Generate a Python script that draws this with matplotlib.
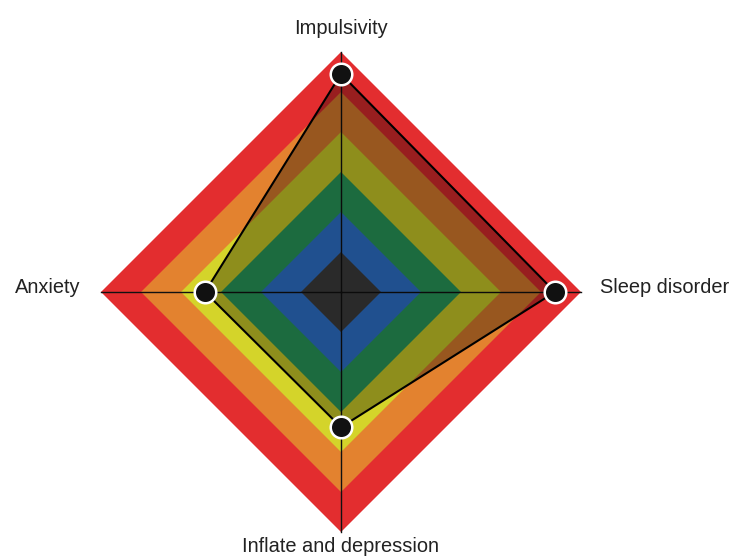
"""
Diamond radar chart with coloured severity bands
"""

import matplotlib.pyplot as plt
import numpy as np

# * Data
categories = ["Impulsivity", "Sleep disorder", "Inflate and depression", "Anxiety"]
scores = [5.45, 5.35, 3.38, 3.4]
levels = [6, 5, 4, 3, 2, 1]
band_colors = ["#e32d2f", "#e3822f", "#d4d42a", "#2aa05e", "#3178d6", "#404040"]

# * Geometry: top, right, bottom, left (clockwise from top)
angles = np.deg2rad([90, 0, -90, 180])
dx, dy = np.cos(angles), np.sin(angles)


def main() -> None:
    """Draw and save the chart"""
    fig = plt.figure(figsize=(7.46, 5.57), dpi=100)
    ax = fig.add_axes([0, 0, 1, 1])
    ax.set_xlim(-341 / 40, 405 / 40)
    ax.set_ylim(-265 / 40, 292 / 40)
    ax.axis("off")

    ## Concentric bands, largest first
    for lvl, col in zip(levels, band_colors):
        ax.fill(lvl * dx, lvl * dy, color=col, lw=0, zorder=1)

    ## Spokes
    for x, y in zip(dx, dy):
        ax.plot([0, 6 * x], [0, 6 * y], color="#111111", lw=1, zorder=2)

    ## Score polygon
    sx, sy = np.array(scores) * dx, np.array(scores) * dy
    ax.fill(sx, sy, color="black", alpha=0.33, lw=0, zorder=3)
    ax.plot(np.append(sx, sx[0]), np.append(sy, sy[0]), color="black", lw=1.5, zorder=4)
    ax.plot(sx, sy, ls="none", marker="o", ms=15.5, mfc="#111111", mec="white",
            mew=1.8, zorder=5)

    ## Axis labels
    font = dict(fontsize=14.4, family="Liberation Sans", color="#222222")
    ax.text(0, 6.6, categories[0], ha="center", va="center", **font)
    ax.text(6.475, 0.12, categories[1], ha="left", va="center", **font)
    ax.text(0, -6.36, categories[2], ha="center", va="center", **font)
    ax.text(-6.525, 0.12, categories[3], ha="right", va="center", **font)

    fig.savefig("out.png", dpi=100)


if __name__ == "__main__":
    main()
